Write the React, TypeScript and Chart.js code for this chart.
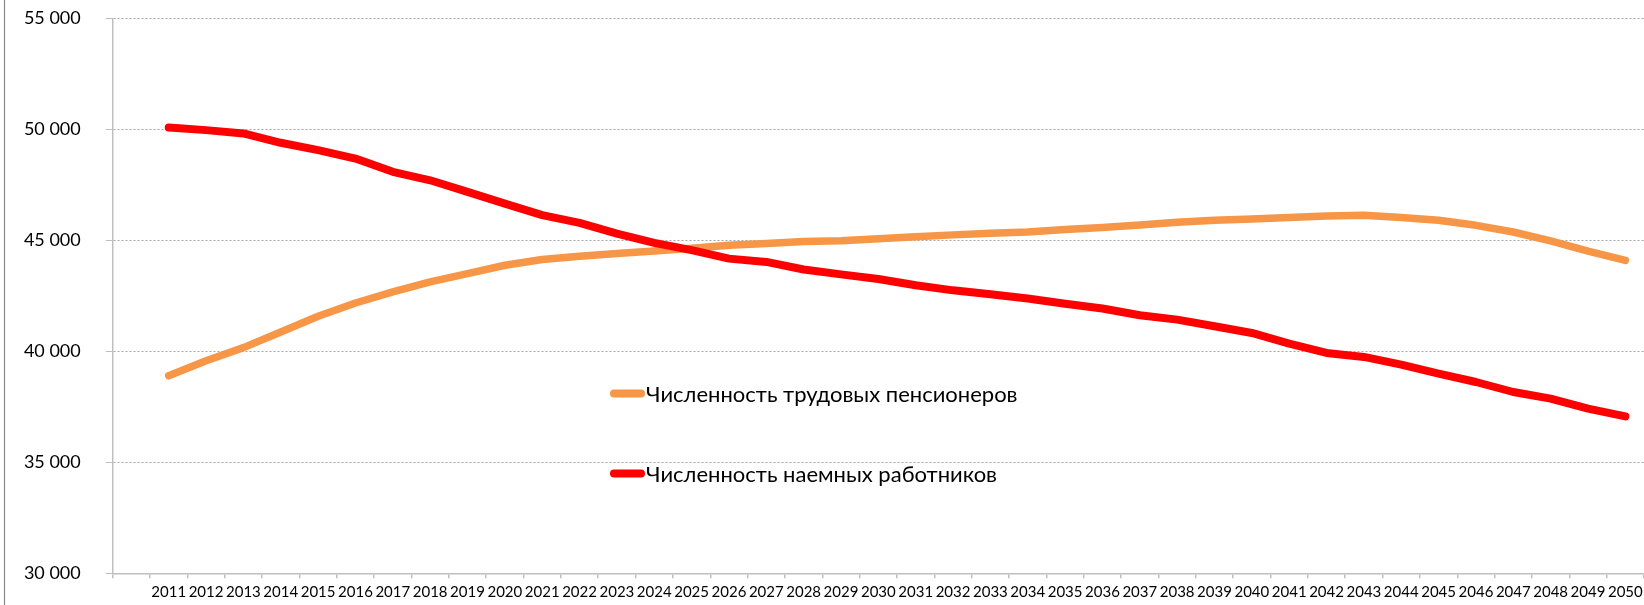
import React, { useEffect, useRef } from "react";
import { Chart, registerables } from "chart.js";

Chart.register(...registerables);

const years = [
  "2011", "2012", "2013", "2014", "2015", "2016", "2017", "2018", "2019", "2020",
  "2021", "2022", "2023", "2024", "2025", "2026", "2027", "2028", "2029", "2030",
  "2031", "2032", "2033", "2034", "2035", "2036", "2037", "2038", "2039", "2040",
  "2041", "2042", "2043", "2044", "2045", "2046", "2047", "2048", "2049", "2050",
];

const pensioners = [
  38900, 39580, 40170, 40870, 41580, 42180, 42680, 43130, 43500, 43880,
  44140, 44290, 44410, 44520, 44650, 44780, 44860, 44950, 44980, 45070,
  45160, 45250, 45320, 45380, 45490, 45580, 45700, 45820, 45910, 45970,
  46030, 46100, 46130, 46030, 45910, 45680, 45380, 44980, 44520, 44100,
];

const workers = [
  50090, 49970, 49820, 49400, 49070, 48690, 48090, 47710, 47190, 46660,
  46140, 45790, 45310, 44890, 44560, 44180, 44030, 43690, 43470, 43260,
  42980, 42750, 42570, 42380, 42150, 41930, 41630, 41430, 41130, 40830,
  40350, 39930, 39750, 39400, 39000, 38620, 38170, 37870, 37420, 37070,
];

const yTicks = [30000, 35000, 40000, 45000, 50000, 55000];
const seriesNames = ["Численность трудовых пенсионеров", "Численность наемных работников"];
const seriesColors = ["#F79646", "#FF0000"];

const FONT = "Lato, 'Open Sans', 'Noto Sans', sans-serif";

const fmt = (v: number) => String(v).replace(/\B(?=(\d{3})+(?!\d))/g, " ");

const legendPlugin = {
  id: "customLegend",
  afterDraw(chart: any) {
    const ctx = chart.ctx;
    const ys = [393.5, 473.5];
    chart.data.datasets.forEach((ds: any, i: number) => {
      const y = ys[i];
      ctx.save();
      ctx.strokeStyle = ds.borderColor;
      ctx.lineWidth = 8;
      ctx.lineCap = "round";
      ctx.beginPath();
      ctx.moveTo(614, y);
      ctx.lineTo(641, y);
      ctx.stroke();
      ctx.fillStyle = "#000";
      ctx.font = `22px ${FONT}`;
      ctx.textBaseline = "middle";
      ctx.textAlign = "left";
      ctx.fillText(ds.label, 646, y + 1);
      ctx.restore();
    });
  },
};

const framePlugin = {
  id: "frame",
  beforeDraw(chart: any) {
    const ctx = chart.ctx;
    ctx.save();
    ctx.fillStyle = "#fff";
    ctx.fillRect(0, 0, chart.width, chart.height);
    ctx.strokeStyle = "#8a8a8a";
    ctx.lineWidth = 1.2;
    ctx.beginPath();
    ctx.moveTo(4.5, 0);
    ctx.lineTo(4.5, chart.height);
    ctx.stroke();
    ctx.restore();
  },
};

export default function App() {
  const ref = useRef<HTMLCanvasElement>(null);
  useEffect(() => {
    const labels = ["", ...years];
    const chart = new Chart(ref.current as HTMLCanvasElement, {
      type: "line",
      data: {
        labels,
        datasets: [
          {
            label: seriesNames[0],
            data: [null, ...pensioners],
            borderColor: seriesColors[0],
            backgroundColor: seriesColors[0],
            borderWidth: 7.5,
            pointRadius: 0,
            tension: 0,
            borderCapStyle: "round",
            borderJoinStyle: "round",
            order: 1,
          },
          {
            label: seriesNames[1],
            data: [null, ...workers],
            borderColor: seriesColors[1],
            backgroundColor: seriesColors[1],
            borderWidth: 8,
            pointRadius: 0,
            tension: 0,
            borderCapStyle: "round",
            borderJoinStyle: "round",
            order: 0,
          },
        ],
      } as any,
      options: {
        animation: false,
        responsive: false,
        maintainAspectRatio: false,
        layout: { padding: { top: 18.5, right: 0, bottom: 0, left: 0 } },
        plugins: { legend: { display: false }, tooltip: { enabled: false } },
        scales: {
          x: {
            offset: true,
            grid: {
              display: true,
              drawOnChartArea: false,
              offset: true,
              tickLength: 5,
              color: "#BFBFBF",
              tickColor: "#BFBFBF",
              lineWidth: 1.5,
            },
            border: { display: true, color: "#BFBFBF", width: 1.5 },
            ticks: {
              autoSkip: false,
              maxRotation: 0,
              minRotation: 0,
              padding: 5,
              color: "#000",
              font: { family: FONT, size: 15 },
            },
            afterFit: (s: any) => {
              s.height = 31.7;
              s.paddingLeft = 0;
              s.paddingRight = 0;
              s.paddingTop = 0;
              s.paddingBottom = 0;
            },
          },
          y: {
            min: 30000,
            max: 55000,
            afterBuildTicks: (s: any) => {
              s.ticks = yTicks.map((v) => ({ value: v }));
            },
            grid: {
              color: (c: any) => (c.tick && c.tick.value === 30000 ? "rgba(0,0,0,0)" : "#A6A6A6"),
              lineWidth: 1,
              tickLength: 7,
              tickColor: "#BFBFBF",
              tickBorderDash: [],
              borderDash: [2, 2],
            },
            border: { display: true, color: "#BFBFBF", width: 1.5, dash: [2, 2] },
            ticks: {
              padding: 25,
              color: "#000",
              font: { family: FONT, size: 18 },
              callback: (v: any) => fmt(Number(v)),
            },
            afterFit: (s: any) => {
              s.width = 112.7;
              s.paddingLeft = 0;
              s.paddingRight = 0;
              s.paddingTop = 0;
              s.paddingBottom = 0;
            },
          },
        },
      } as any,
      plugins: [framePlugin, legendPlugin],
    });
    return () => chart.destroy();
  }, []);
  return (
    <div style={{ position: "absolute", left: 0, top: 0, width: 1644, height: 605, background: "#fff" }}>
      <canvas ref={ref} width={1644} height={605} style={{ display: "block", width: 1644, height: 605 }} />
    </div>
  );
}
